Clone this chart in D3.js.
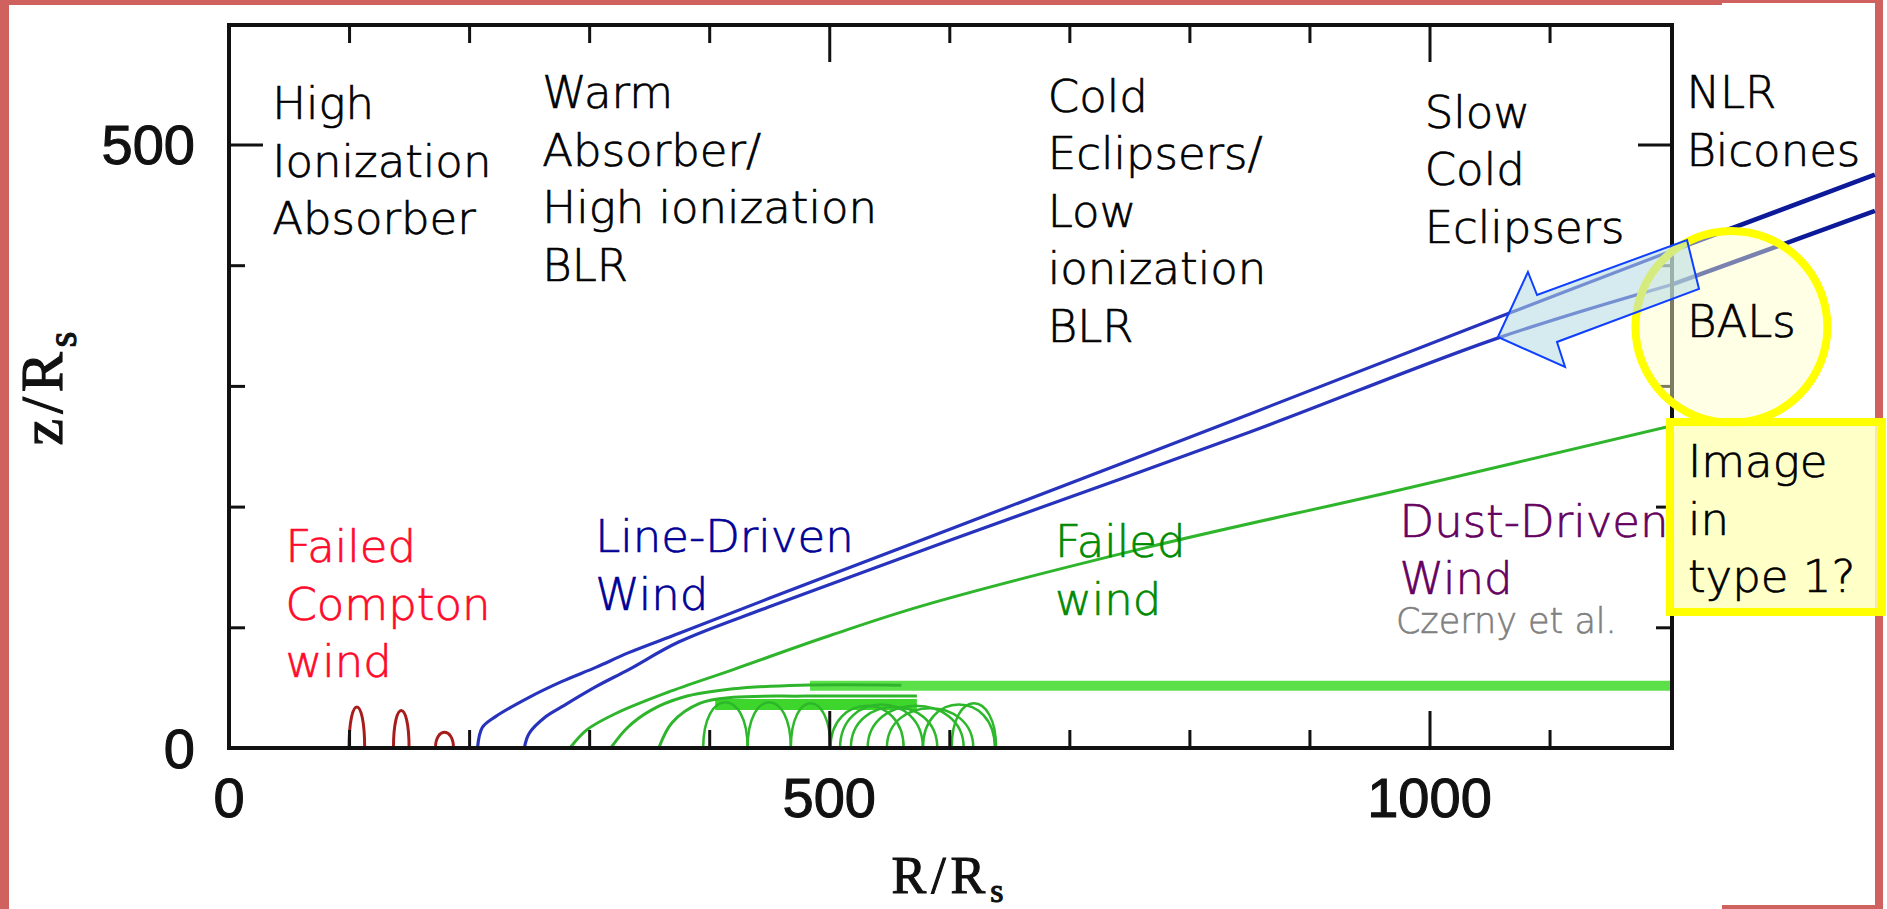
<!DOCTYPE html>
<html>
<head>
<meta charset="utf-8">
<script src="https://cdn.jsdelivr.net/npm/d3@7"></script>
<style>
  body { margin: 0; background: #fff; overflow: hidden; }
  svg { display: block; }
</style>
</head>
<body>
<svg id="chart"></svg>
<script>
// tick values
const xMajor = [0, 500, 1000];
const xMinor = [100, 200, 300, 400, 600, 700, 800, 900, 1100];
const yMajor = [0, 500];
const yMinor = [100, 200, 300, 400];

// streamlines, [R/Rs, z/Rs]
const blueUpper = [[207,0],[211,17],[222,26],[250,42],[277,55],[306,67],[333,79],[375,95],[450,124],[600,181],[851,277],[1058,357],[1202,412]];
const blueLower = [[246,0],[250,12],[264,26],[277,34],[306,51],[333,65],[375,88],[450,117],[600,172],[851,262],[1058,340],[1202,384]];
// same two lines carried on past the frame
const blueUpperExt = [[1202,412],[1371,475]];
const blueLowerExt = [[1202,384],[1371,445]];

const greenOuter = [[284,0],[298,15],[323,29],[365,46],[420,65],[503,94],[578,118],[764,166],[976,214],[1202,267]];
const greenSecond = [[318,0],[332,17],[351,31],[378,42],[420,49],[476,52],[560,52]];
const greenThird = [[358,0],[369,21],[392,37],[420,42],[480,43],[573,43]];
const greenBand = [[484,51.5],[1202,51.5]];
const greenCluster = [[405,36],[573,36]];
// loops: left foot, right foot, height
const greenLoops = [[395,432,38],[432,468,38],[468,501,37],[501,562,35],[509,578,36],[518,590,34],[532,612,35],[548,620,33],[578,638,36],[602,639,37]];
const redLoops = [[100,113,34],[137,150,31],[172,187,13]];

// text on the slide, anchored at first baseline in data units
const labels = [
  {x: 36, y: 521, lines: ["High", "Ionization", "Absorber"], color: "#000"},
  {x: 261, y: 530, lines: ["Warm", "Absorber/", "High ionization", "BLR"], color: "#000"},
  {x: 682, y: 527, lines: ["Cold", "Eclipsers/", "Low", "ionization", "BLR"], color: "#000"},
  {x: 996, y: 514, lines: ["Slow", "Cold", "Eclipsers"], color: "#000"},
  {x: 1214, y: 530, lines: ["NLR", "Bicones"], color: "#000"},
  {x: 47, y: 154, lines: ["Failed", "Compton", "wind"], color: "#ff0a2a"},
  {x: 305, y: 162, lines: ["Line-Driven", "Wind"], color: "#000096"},
  {x: 688, y: 158, lines: ["Failed", "wind"], color: "#008a00"},
  {x: 975, y: 175, lines: ["Dust-Driven", "Wind"], color: "#66005f"}
];
const arrowPts = [[1057,340.5],[1082,394.4],[1089.6,375.3],[1214.5,420.9],[1224.5,380.3],[1106.2,336.4],[1112.9,315.7]];
const balCentre = [1251.5, 348.8];
const boxCorners = [[1200.2, 270.1], [1376.9, 112.7]];

const W = 1887, H = 909;
const svg = d3.select("#chart").attr("width", W).attr("height", H);

const x = d3.scaleLinear().domain([0, 1202]).range([229, 1672]);
const y = d3.scaleLinear().domain([0, 599]).range([748, 25]);

svg.append("rect").attr("width", W).attr("height", H).attr("fill", "#fff");

// slide frame
const pink = "#cf625e";
svg.append("rect").attr("x", 0).attr("y", 0).attr("width", 9).attr("height", H).attr("fill", pink);
svg.append("rect").attr("x", 0).attr("y", 0).attr("width", 1722).attr("height", 5).attr("fill", pink);
svg.append("rect").attr("x", 1722).attr("y", 0).attr("width", 161).attr("height", 3).attr("fill", pink);
svg.append("rect").attr("x", 1875).attr("y", 0).attr("width", 8).attr("height", H).attr("fill", pink);
svg.append("rect").attr("x", 1722).attr("y", 905).attr("width", 161).attr("height", 4).attr("fill", pink);

svg.append("clipPath").attr("id", "plot")
  .append("rect").attr("x", 229).attr("y", 25).attr("width", 1443).attr("height", 723);

const line = d3.line().x(d => x(d[0])).y(d => y(d[1])).curve(d3.curveCatmullRom.alpha(0.5));
const straight = d3.line().x(d => x(d[0])).y(d => y(d[1]));
const g = svg.append("g").attr("clip-path", "url(#plot)");

function arch(d) {
  const p = d3.path();
  const k = y(0) - (y(0) - y(d[2])) / 0.75;
  p.moveTo(x(d[0]), y(0));
  p.bezierCurveTo(x(d[0]), k, x(d[1]), k, x(d[1]), y(0));
  return p.toString();
}

// green
g.append("path").datum(greenBand).attr("d", straight).attr("fill", "none")
  .attr("stroke", "#5be04a").attr("stroke-width", 10);
g.append("path").datum(greenCluster).attr("d", straight).attr("fill", "none")
  .attr("stroke", "#3ed62c").attr("stroke-width", 11);
g.selectAll(".gloop").data(greenLoops).join("path").attr("class", "gloop")
  .attr("d", arch).attr("fill", "none").attr("stroke", "#2cb82a").attr("stroke-width", 2.5);
[greenOuter, greenSecond, greenThird].forEach(s => {
  g.append("path").datum(s).attr("d", line).attr("fill", "none")
    .attr("stroke", "#2fb52c").attr("stroke-width", 3);
});

// red
g.selectAll(".rloop").data(redLoops).join("path").attr("class", "rloop")
  .attr("d", arch).attr("fill", "none").attr("stroke", "#a81c1c").attr("stroke-width", 3);

// blue
[blueUpper, blueLower].forEach(s => {
  g.append("path").datum(s).attr("d", line).attr("fill", "none")
    .attr("stroke", "#2733bd").attr("stroke-width", 3.2);
});
[blueUpperExt, blueLowerExt].forEach(s => {
  svg.append("path").datum(s).attr("d", straight).attr("fill", "none")
    .attr("stroke", "#0c1a9a").attr("stroke-width", 4.5);
});

// frame and ticks
svg.append("rect").attr("x", 229).attr("y", 25).attr("width", 1443).attr("height", 723)
  .attr("fill", "none").attr("stroke", "#111").attr("stroke-width", 4);

function ticks(axis, vals, len, tr) {
  const a = svg.append("g").attr("transform", tr)
    .call(axis.tickValues(vals).tickSizeInner(-len).tickSizeOuter(0).tickFormat(""));
  a.select(".domain").remove();
  a.selectAll("line").attr("stroke", "#111").attr("stroke-width", 3);
}
ticks(d3.axisBottom(x), xMajor, 37, "translate(0,748)");
ticks(d3.axisBottom(x), xMinor, 18, "translate(0,748)");
ticks(d3.axisTop(x), xMajor, 37, "translate(0,25)");
ticks(d3.axisTop(x), xMinor, 18, "translate(0,25)");
ticks(d3.axisLeft(y), yMajor, 34, "translate(229,0)");
ticks(d3.axisLeft(y), yMinor, 16, "translate(229,0)");
ticks(d3.axisRight(y), yMajor, 34, "translate(1672,0)");
ticks(d3.axisRight(y), yMinor, 16, "translate(1672,0)");

const tickFont = "'Liberation Sans', Arial, sans-serif";
svg.selectAll(".xl").data(xMajor).join("text").attr("class", "xl")
  .attr("x", d => x(d)).attr("y", 817).attr("text-anchor", "middle")
  .attr("font-family", tickFont).attr("font-size", 56)
  .attr("fill", "#111").attr("stroke", "#111").attr("stroke-width", 1.1)
  .text(d => d);
svg.selectAll(".yl").data(yMajor).join("text").attr("class", "yl")
  .attr("x", 195).attr("y", d => y(d) + 20).attr("text-anchor", "end")
  .attr("font-family", tickFont).attr("font-size", 56)
  .attr("fill", "#111").attr("stroke", "#111").attr("stroke-width", 1.1)
  .text(d => d);

const serif = "'Liberation Serif', 'Times New Roman', serif";
const xt = svg.append("text").attr("x", 950).attr("y", 893).attr("text-anchor", "middle")
  .attr("font-family", serif).attr("font-size", 52).attr("fill", "#111")
  .attr("stroke", "#111").attr("stroke-width", 1.1).attr("letter-spacing", 5);
xt.append("tspan").text("R/R");
xt.append("tspan").attr("dy", 9).attr("font-size", 34).text("s");
const yt = svg.append("text").attr("transform", "translate(62,386) rotate(-90)")
  .attr("text-anchor", "middle")
  .attr("font-family", serif).attr("font-size", 60).attr("fill", "#111")
  .attr("stroke", "#111").attr("stroke-width", 1.2).attr("letter-spacing", 5);
yt.append("tspan").text("z/R");
yt.append("tspan").attr("dy", 14).attr("font-size", 40).text("s");

// slide annotations
const sans = "'DejaVu Sans', 'Noto Sans', sans-serif";
const lineGap = 57.5;
labels.forEach(l => {
  const t = svg.append("text").attr("font-family", sans).attr("font-size", 45)
    .attr("font-weight", 300).attr("fill", l.color)
    .attr("stroke", l.color).attr("stroke-width", 0.7);
  l.lines.forEach((s, i) => {
    t.append("tspan").attr("x", x(l.x)).attr("y", y(l.y) + i * lineGap).text(s);
  });
});
svg.append("text").attr("x", x(972)).attr("y", y(95.3))
  .attr("font-family", sans).attr("font-size", 35).attr("font-weight", 300).attr("fill", "#808080")
  .attr("stroke", "#808080").attr("stroke-width", 0.6)
  .text("Czerny et al.");

// BAL circle
svg.append("circle").attr("cx", x(balCentre[0])).attr("cy", y(balCentre[1])).attr("r", 96)
  .attr("fill", "rgba(255,255,200,0.45)").attr("stroke", "#ffff00").attr("stroke-width", 8);

// arrow
svg.append("path")
  .attr("d", straight(arrowPts) + "Z")
  .attr("fill", "rgba(180,218,228,0.55)").attr("stroke", "#1040ff").attr("stroke-width", 2);

svg.append("text").attr("x", x(1214.5)).attr("y", y(340.5))
  .attr("font-family", sans).attr("font-size", 45).attr("font-weight", 300).attr("fill", "#000")
  .attr("stroke", "#000").attr("stroke-width", 0.7).text("BALs");

// "Image in type 1?" box
const bx0 = x(boxCorners[0][0]), by0 = y(boxCorners[0][1]);
const bx1 = x(boxCorners[1][0]), by1 = y(boxCorners[1][1]);
svg.append("rect").attr("x", bx0).attr("y", by0).attr("width", bx1 - bx0).attr("height", by1 - by0)
  .attr("fill", "rgba(255,255,190,0.85)").attr("stroke", "#ffff00").attr("stroke-width", 8);
const bt = svg.append("text").attr("font-family", sans).attr("font-size", 45)
  .attr("font-weight", 300).attr("fill", "#000").attr("stroke", "#000").attr("stroke-width", 0.7);
["Image", "in", "type 1?"].forEach((s, i) => {
  bt.append("tspan").attr("x", x(1215.3)).attr("y", y(224.5) + i * lineGap).text(s);
});
</script>
</body>
</html>
